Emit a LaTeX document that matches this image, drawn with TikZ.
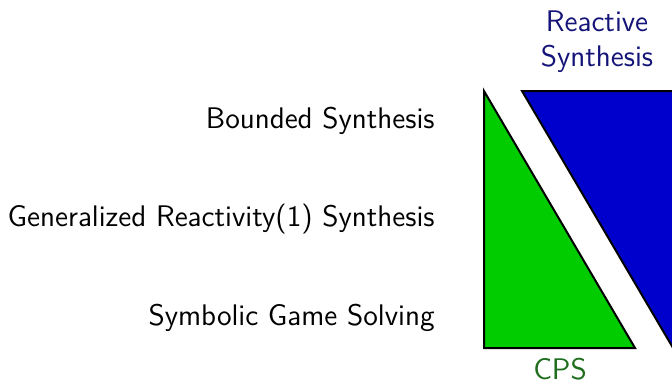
\documentclass[tikz,border=0pt]{standalone}
\usepackage{tikz}
\renewcommand{\familydefault}{\sfdefault}
\definecolor{cpsgreen}{RGB}{0,204,0}
\definecolor{rsblue}{RGB}{0,0,204}
\definecolor{rstext}{RGB}{20,20,120}
\definecolor{cpstext}{RGB}{30,110,30}
\begin{document}
\begin{tikzpicture}[x=0.5pt,y=-0.5pt,
  lbl/.style={font=\sffamily\fontsize{14.9}{17.5}\selectfont, inner sep=0pt},
  tri/.style={draw=black, line width=1pt, line join=miter}]
\useasboundingbox (0,0) rectangle (672,385);
\fill[white] (0,0) rectangle (672,385);
\filldraw[tri, fill=cpsgreen] (484,91) -- (484,348) -- (635,348) -- cycle;
\filldraw[tri, fill=rsblue] (522,91) -- (676,91) -- (676,353) -- cycle;
\node[lbl, text=rstext, align=center] (rs) at (597,42) {Reactive\\Synthesis};
\node[lbl, text=cpstext] (cps) at (560,369) {CPS};
\node[lbl, anchor=east] (bs) at (435,121) {Bounded Synthesis};
\node[lbl, anchor=east] (gr) at (435,219) {Generalized Reactivity(1) Synthesis};
\node[lbl, anchor=east] (sg) at (435,318) {Symbolic Game Solving};
\end{tikzpicture}
\end{document}
